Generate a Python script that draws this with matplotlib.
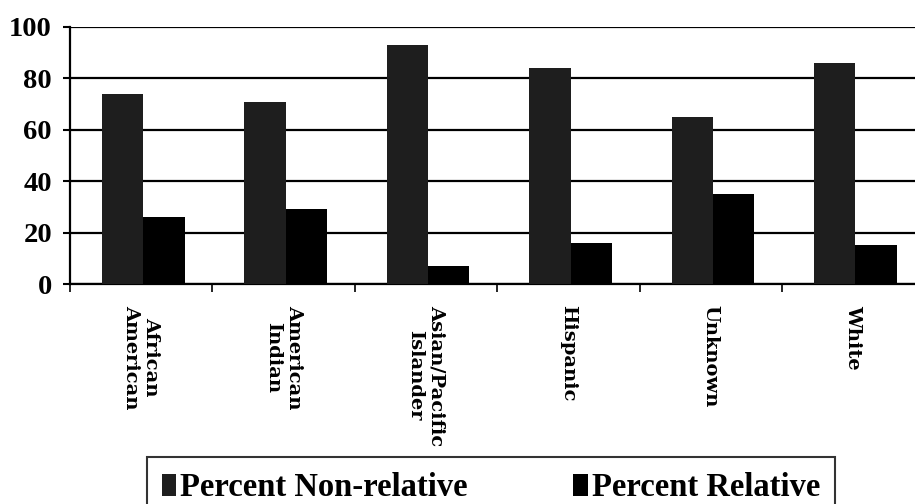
import numpy as np
import matplotlib
matplotlib.use('Agg')
import matplotlib.pyplot as plt
from matplotlib.ticker import FixedLocator

categories = ['African\nAmerican', 'American\nIndian', 'Asian/Pacific\nIslander',
              'Hispanic', 'Unknown', 'White']
non_relative = [74, 71, 93, 84, 65, 86]
relative = [26, 29, 7, 16, 35, 15]
y_ticks = [0, 20, 40, 60, 80, 100]

plt.rcParams['font.family'] = ['Liberation Serif', 'DejaVu Serif']
plt.rcParams['font.weight'] = 'bold'

fig = plt.figure(figsize=(9.15, 5.04), dpi=100)
ax = fig.add_axes([70/915, 1 - 284/504, 1 - 70/915, (284 - 27)/504])

x = np.arange(len(categories))
w = 0.29
ax.bar(x - 0.13, non_relative, w, color='#1e1e1e', label='Percent Non-relative', zorder=3)
ax.bar(x + 0.16, relative, w, color='#000000', label='Percent Relative', zorder=3)

ax.set_ylim(0, 100)
ax.set_xlim(-0.5, (915 - 70) / 142.4 - 0.5)
ax.set_yticks(y_ticks)
ax.yaxis.grid(True, color='black', linewidth=1.6, zorder=0)
ax.set_axisbelow(True)

for s in ['top', 'right']:
    ax.spines[s].set_visible(False)
for s in ['left', 'bottom']:
    ax.spines[s].set_linewidth(1.6)

ax.tick_params(axis='y', direction='out', length=5, width=1.5, pad=8, labelsize=20.5)
ax.set_xticks(x)
ax.set_xticklabels(categories, rotation=-90, fontsize=14, multialignment='center',
                   family=['DejaVu Serif'])
ax.tick_params(axis='x', which='major', length=0, pad=15)
ax.xaxis.set_minor_locator(FixedLocator(np.arange(len(categories)) - 0.5))
ax.tick_params(axis='x', which='minor', direction='out', length=6, width=1.2)

leg = fig.legend(loc='upper left',
                 bbox_to_anchor=(147/915, 1 - 458/504, (835 - 147)/915, 0.001),
                 mode='expand', ncol=2, fontsize=23.5, frameon=True, fancybox=False,
                 edgecolor='black', handlelength=0.45, handleheight=0.65,
                 handletextpad=0.12, borderpad=0.45, borderaxespad=0)
leg.get_frame().set_linewidth(1.5)

fig.savefig('out.png', dpi=100)
